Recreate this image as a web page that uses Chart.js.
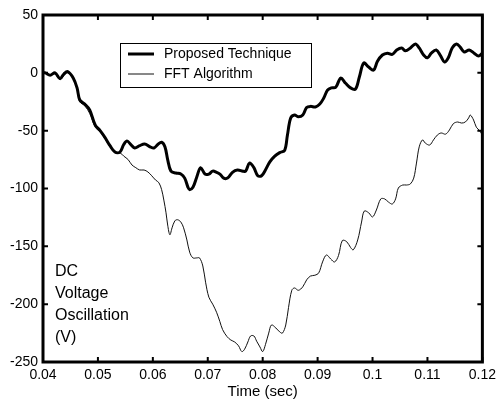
<!DOCTYPE html>
<html>
<head>
<meta charset="utf-8">
<script src="https://cdn.jsdelivr.net/npm/chart.js@4"></script>
<style>
  html, body { margin: 0; padding: 0; background: #fff; }
  #wrap { width: 501px; height: 401px; }
</style>
</head>
<body>
<div id="wrap"><canvas id="chart" width="501" height="401"></canvas></div>
<script>
// tick values for both axes
const xTicks = [0.04, 0.05, 0.06, 0.07, 0.08, 0.09, 0.1, 0.11, 0.12];
const yTicks = [50, 0, -50, -100, -150, -200, -250];

// Proposed Technique (thick line)
const propTime = [0.0400,0.0404,0.0413,0.0422,0.0431,0.0438,0.0445,0.0455,0.0462,0.0467,0.0476,0.0485,0.0495,0.0504,0.0513,0.0522,0.0531,0.0540,0.0547,0.0553,0.0560,0.0567,0.0576,0.0585,0.0595,0.0602,0.0609,0.0616,0.0622,0.0627,0.0633,0.0642,0.0651,0.0658,0.0664,0.0667,0.0673,0.0680,0.0687,0.0695,0.0702,0.0709,0.0716,0.0722,0.0729,0.0736,0.0745,0.0754,0.0764,0.0769,0.0776,0.0784,0.0791,0.0798,0.0805,0.0813,0.0822,0.0831,0.0840,0.0845,0.0851,0.0858,0.0865,0.0873,0.0880,0.0887,0.0896,0.0904,0.0911,0.0918,0.0925,0.0933,0.0942,0.0951,0.0960,0.0969,0.0976,0.0984,0.0993,0.1002,0.1009,0.1018,0.1027,0.1036,0.1044,0.1053,0.1060,0.1069,0.1078,0.1085,0.1093,0.1100,0.1107,0.1116,0.1124,0.1131,0.1138,0.1145,0.1153,0.1160,0.1167,0.1176,0.1185,0.1193,0.1200];
const propVolt = [0,0,-2,0,-5,-1,1,-4.5,-13,-23.5,-27,-32,-45,-50,-56,-63,-68.5,-68.5,-62,-59,-62,-65,-63,-61.5,-64,-65,-62,-60,-64,-75,-85,-86.6,-87.5,-91,-99,-101,-99,-90,-82,-87.5,-87.5,-85,-86,-87.5,-91,-91,-86,-84,-85,-85,-78,-82,-89,-89,-84,-77,-72,-69,-67,-54,-39,-36.5,-38,-36.5,-30,-29,-29.5,-27,-22,-15,-13,-12.5,-4.5,-9,-13,-14,-3.6,8.5,5,2.4,10,15.4,17,16,19.7,21.5,19,21.5,25,21.5,15.4,13,17,19.7,14.6,9.4,13,21.5,25,22,18,19.7,17,14.6,17];

// FFT Algorithm (thin line)
const fftTime = [0.0400,0.0404,0.0413,0.0422,0.0431,0.0438,0.0445,0.0455,0.0462,0.0467,0.0476,0.0485,0.0495,0.0504,0.0513,0.0522,0.0531,0.0540,0.0547,0.0555,0.0562,0.0569,0.0576,0.0584,0.0591,0.0598,0.0605,0.0611,0.0616,0.0620,0.0624,0.0627,0.0631,0.0635,0.0640,0.0645,0.0651,0.0656,0.0662,0.0667,0.0673,0.0680,0.0685,0.0691,0.0696,0.0702,0.0709,0.0716,0.0722,0.0727,0.0735,0.0742,0.0749,0.0756,0.0762,0.0767,0.0773,0.0778,0.0784,0.0789,0.0795,0.0800,0.0805,0.0811,0.0816,0.0824,0.0831,0.0836,0.0842,0.0847,0.0853,0.0858,0.0865,0.0873,0.0880,0.0887,0.0895,0.0902,0.0909,0.0916,0.0924,0.0931,0.0938,0.0945,0.0953,0.0960,0.0965,0.0973,0.0980,0.0985,0.0993,0.1000,0.1007,0.1015,0.1022,0.1029,0.1036,0.1042,0.1047,0.1055,0.1062,0.1069,0.1075,0.1080,0.1085,0.1091,0.1096,0.1104,0.1111,0.1118,0.1125,0.1133,0.1140,0.1147,0.1155,0.1162,0.1169,0.1175,0.1178,0.1184,0.1189,0.1195,0.1200];
const fftVolt = [0,0,-2,-1,-6,-2.5,0,-5,-14,-25,-28.5,-35,-47,-51,-57,-64,-68.5,-69,-72,-75,-79.7,-82,-84,-84,-85.7,-89,-92.7,-95,-101,-110,-121,-131.6,-140,-134,-128,-127,-129,-134,-144.5,-155,-160,-160,-160,-167,-181,-194,-200,-207,-215,-222,-228,-231,-232.7,-236,-241,-239,-232.7,-227.5,-227.5,-232,-237,-241,-235,-225,-218,-220.6,-224,-225,-218,-203,-188,-186,-188,-185,-179,-175.7,-175,-173,-163.5,-157.5,-161,-163.5,-158,-145,-146,-151,-153,-144.5,-129,-119.5,-121,-124.6,-118.6,-109,-109,-111.7,-113.4,-109,-99.6,-97,-97,-96,-91,-78,-64,-58,-60.7,-62.4,-58,-53.8,-52,-53,-49.4,-44,-42.5,-43.4,-42.5,-39,-36.5,-40.8,-47,-50,-54];

const seriesNames = ['Proposed Technique', 'FFT Algorithm'];
const yLabelLines = ['DC', 'Voltage', 'Oscillation', '(V)'];

const FONT = "'Liberation Sans', Arial, sans-serif";

function toPoints(xs, ys) {
    return xs.map((x, i) => ({ x: x, y: ys[i] }));
}

// frame box + inward tick marks + legend box + label inside the plot
const framePlugin = {
    id: 'frame',
    afterDraw(chart) {
        const { ctx, chartArea: a, scales } = chart;
        ctx.save();
        ctx.strokeStyle = '#000';
        ctx.lineWidth = 2;
        xTicks.forEach(v => {
            const px = scales.x.getPixelForValue(v);
            ctx.beginPath();
            ctx.moveTo(px, a.bottom); ctx.lineTo(px, a.bottom - 5);
            ctx.moveTo(px, a.top); ctx.lineTo(px, a.top + 5);
            ctx.stroke();
        });
        yTicks.forEach(v => {
            const py = scales.y.getPixelForValue(v);
            ctx.beginPath();
            ctx.moveTo(a.left, py); ctx.lineTo(a.left + 5, py);
            ctx.moveTo(a.right, py); ctx.lineTo(a.right - 5, py);
            ctx.stroke();
        });
        ctx.lineWidth = 3;
        ctx.strokeRect(a.left, a.top, a.right - a.left, a.bottom - a.top);

        // legend
        const lx = 120, ly = 43, lw = 191, lh = 44;
        ctx.lineWidth = 1;
        ctx.fillStyle = '#fff';
        ctx.fillRect(lx, ly, lw, lh);
        ctx.strokeRect(lx + 0.5, ly + 0.5, lw, lh);
        ctx.font = '14px ' + FONT;
        ctx.textBaseline = 'middle';
        chart.data.datasets.forEach((ds, i) => {
            const yy = ly + 11 + i * 20;
            ctx.strokeStyle = ds.borderColor;
            ctx.lineWidth = ds.borderWidth;
            ctx.beginPath();
            ctx.moveTo(lx + 8, yy); ctx.lineTo(lx + 34, yy);
            ctx.stroke();
            ctx.fillStyle = '#000';
            ctx.fillText(ds.label, lx + 44, yy);
        });

        // y label inside plot
        ctx.font = '16px ' + FONT;
        ctx.textBaseline = 'middle';
        ctx.fillStyle = '#000';
        yLabelLines.forEach((t, i) => {
            ctx.fillText(t, 55, 272 + i * 22);
        });
        ctx.restore();
    }
};

new Chart(document.getElementById('chart'), {
    type: 'line',
    data: {
        datasets: [
            {
                label: seriesNames[0],
                data: toPoints(propTime, propVolt),
                borderColor: '#000',
                borderWidth: 3,
                pointRadius: 0,
                tension: 0.35
            },
            {
                label: seriesNames[1],
                data: toPoints(fftTime, fftVolt),
                borderColor: '#111',
                borderWidth: 1,
                pointRadius: 0,
                tension: 0.35
            }
        ]
    },
    options: {
        responsive: false,
        animation: false,
        events: [],
        layout: { padding: { top: 15, right: 18, left: 0, bottom: 0 } },
        plugins: { legend: { display: false }, tooltip: { enabled: false } },
        scales: {
            x: {
                type: 'linear',
                min: 0.04, max: 0.12,
                grid: { display: false, drawTicks: false },
                border: { display: false },
                afterBuildTicks: s => { s.ticks = xTicks.map(v => ({ value: v })); },
                afterFit: s => { s.height = 39; },
                ticks: {
                    color: '#000',
                    padding: 5,
                    maxRotation: 0,
                    autoSkip: false,
                    font: { family: FONT, size: 14 },
                    callback: v => String(parseFloat(v.toFixed(2)))
                },
                title: {
                    display: true,
                    text: 'Time (sec)',
                    color: '#000',
                    padding: { top: 0, bottom: 0 },
                    font: { family: FONT, size: 15 }
                }
            },
            y: {
                type: 'linear',
                min: -250, max: 50,
                grid: { display: false, drawTicks: false },
                border: { display: false },
                afterBuildTicks: s => { s.ticks = yTicks.map(v => ({ value: v })); },
                afterFit: s => { s.width = 43; },
                ticks: {
                    color: '#000',
                    padding: 5,
                    autoSkip: false,
                    font: { family: FONT, size: 14 }
                }
            }
        }
    },
    plugins: [framePlugin]
});
</script>
</body>
</html>
